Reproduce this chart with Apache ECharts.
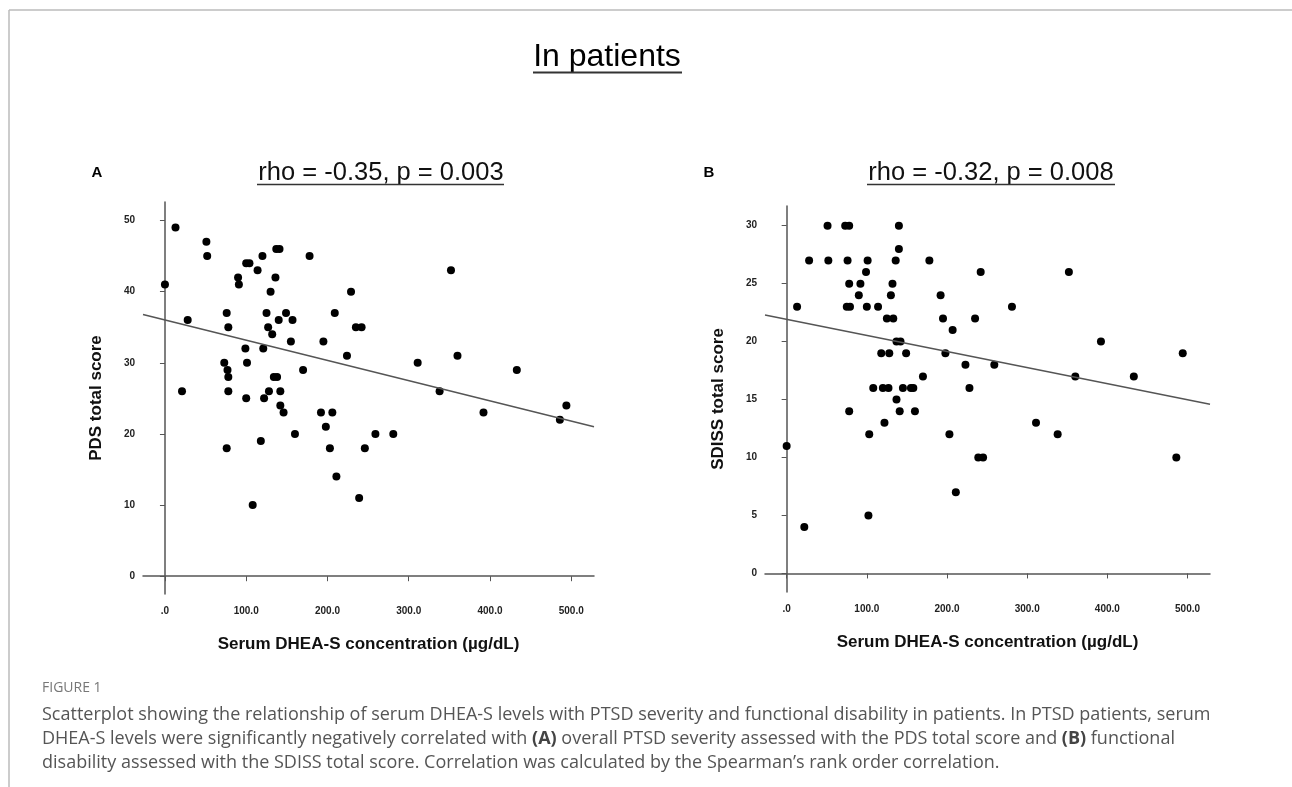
<!DOCTYPE html>
<html>
<head>
<meta charset="utf-8">
<title>In patients</title>
<script src="https://cdn.jsdelivr.net/npm/echarts@6/dist/echarts.min.js"></script>
<style>
  html, body { margin: 0; padding: 0; background: #fff; }
  #chart { width: 1292px; height: 787px; }
</style>
</head>
<body>
<div id="chart"></div>
<script>
// serum DHEA-S (ug/dL) vs PDS total score
const pdsPoints = [
  [13, 49], [51, 47], [52, 45], [0, 41], [137, 46], [141, 46], [120, 45], [178, 45],
  [100, 44], [104, 44], [114, 43], [90, 42], [91, 41], [136, 42], [130, 40], [229, 40],
  [28, 36], [76, 37], [78, 35], [125, 37], [149, 37], [140, 36], [157, 36], [127, 35],
  [132, 34], [209, 37], [235, 35], [242, 35], [155, 33], [195, 33], [99, 32], [121, 32],
  [224, 31], [73, 30], [101, 30], [77, 29], [78, 28], [170, 29], [134, 28], [138, 28],
  [21, 26], [78, 26], [100, 25], [128, 26], [142, 26], [122, 25], [142, 24], [146, 23],
  [192, 23], [206, 23], [198, 21], [160, 20], [259, 20], [118, 19], [76, 18], [203, 18],
  [246, 18], [211, 14], [239, 11], [108, 10], [281, 20], [338, 26], [392, 23], [486, 22],
  [494, 24], [352, 43], [311, 30], [360, 31], [433, 29]
];
// serum DHEA-S vs SDISS total score, panel B
const sdissPoints = [
  [51, 30], [73, 30], [78, 30], [140, 30], [28, 27], [52, 27], [76, 27], [101, 27],
  [136, 27], [178, 27], [140, 28], [99, 26], [78, 25], [92, 25], [132, 25], [90, 24],
  [130, 24], [192, 24], [13, 23], [75, 23], [79, 23], [100, 23], [114, 23], [125, 22],
  [133, 22], [195, 22], [207, 21], [137, 20], [142, 20], [118, 19], [128, 19], [149, 19],
  [198, 19], [223, 18], [170, 17], [108, 16], [120, 16], [127, 16], [145, 16], [155, 16],
  [158, 16], [228, 16], [137, 15], [78, 14], [141, 14], [160, 14], [122, 13], [103, 12],
  [203, 12], [0, 11], [211, 7], [102, 5], [22, 4], [242, 26], [352, 26], [281, 23],
  [235, 22], [392, 20], [494, 19], [259, 18], [360, 17], [433, 17], [311, 13], [338, 12],
  [239, 10], [245, 10], [486, 10]
];
// fitted lines, end points as drawn in the figure
const fitA = [[-27, 36.8], [528, 21.0]];
const fitB = [[-27, 22.3], [528, 14.6]];

const xTicks = [0, 100, 200, 300, 400, 500];
const yTicksA = [0, 10, 20, 30, 40, 50];
const yTicksB = [0, 5, 10, 15, 20, 25, 30];

const rhoA = 'rho = -0.35, p = 0.003';
const rhoB = 'rho = -0.32, p = 0.008';

const captionLines = [
  'Scatterplot showing the relationship of serum DHEA-S levels with PTSD severity and functional disability in patients. In PTSD patients, serum',
  'DHEA-S levels were significantly negatively correlated with {b|(A)} overall PTSD severity assessed with the PDS total score and {b|(B)} functional',
  'disability assessed with the SDISS total score. Correlation was calculated by the Spearman\u2019s rank order correlation.'
];

const axisFont = 'Liberation Sans';
const axisColor = '#555';

function xAxisCfg(gridIndex) {
  return {
    type: 'value', gridIndex,
    min: -27, max: 528,
    name: 'Serum DHEA-S concentration (\u00b5g/dL)',
    nameLocation: 'middle', nameGap: 42,
    nameTextStyle: { fontFamily: axisFont, fontWeight: 'bold', fontSize: 17, color: '#111' },
    axisLine: { lineStyle: { color: axisColor, width: 1.5 } },
    axisTick: { customValues: xTicks, length: 5, lineStyle: { color: axisColor } },
    axisLabel: {
      customValues: xTicks, margin: 12,
      fontFamily: axisFont, fontWeight: 'bold', fontSize: 10, color: '#222',
      formatter: v => (v === 0 ? '.0' : v.toFixed(1))
    },
    splitLine: { show: false }
  };
}

function yAxisCfg(gridIndex, name, min, max, ticks) {
  return {
    type: 'value', gridIndex, min, max, name,
    nameLocation: 'middle', nameGap: 38,
    nameTextStyle: { fontFamily: axisFont, fontWeight: 'bold', fontSize: 17, color: '#111' },
    axisLine: { show: true, lineStyle: { color: axisColor, width: 1.5 } },
    axisTick: { show: true, customValues: ticks, length: 5, lineStyle: { color: axisColor } },
    axisLabel: {
      customValues: ticks, margin: 8,
      fontFamily: axisFont, fontWeight: 'bold', fontSize: 10, color: '#222'
    },
    splitLine: { show: false }
  };
}

function scatterCfg(idx, data) {
  return {
    type: 'scatter', xAxisIndex: idx, yAxisIndex: idx,
    data, symbolSize: 8,
    itemStyle: { color: '#000', opacity: 1 },
    silent: true
  };
}

function fitCfg(idx, data) {
  return {
    type: 'line', xAxisIndex: idx, yAxisIndex: idx,
    data, showSymbol: false, silent: true,
    lineStyle: { color: '#555', width: 1.5 }
  };
}

function textEl(x, y, text, style) {
  return {
    type: 'text', x, y, silent: true,
    style: Object.assign({ text, fill: '#000', fontFamily: axisFont }, style)
  };
}

function underline(x1, x2, y, w) {
  return {
    type: 'line', silent: true,
    shape: { x1, y1: y, x2, y2: y },
    style: { stroke: '#333', lineWidth: w }
  };
}

const captionStyle = {
  fontFamily: 'Open Sans', fontSize: 18, fill: '#555',
  rich: { b: { fontFamily: 'Open Sans', fontSize: 18, fontWeight: 'bold', fill: '#444' } }
};

const chart = echarts.init(document.getElementById('chart'));

const option = {
  backgroundColor: '#fff',
  animation: false,
  grid: [
    { left: 143, top: 202, width: 451, height: 392 },
    { left: 765, top: 206, width: 445, height: 386 }
  ],
  xAxis: [xAxisCfg(0), xAxisCfg(1)],
  yAxis: [
    yAxisCfg(0, 'PDS total score', -2.5, 52.6, yTicksA),
    yAxisCfg(1, 'SDISS total score', -1.6, 31.7, yTicksB)
  ],
  series: [
    fitCfg(0, fitA),
    fitCfg(1, fitB),
    scatterCfg(0, pdsPoints),
    scatterCfg(1, sdissPoints)
  ],
  graphic: [
    // page frame
    { type: 'line', silent: true, shape: { x1: 9, y1: 10, x2: 1292, y2: 10 }, style: { stroke: '#bbb', lineWidth: 1.5 } },
    { type: 'line', silent: true, shape: { x1: 9, y1: 10, x2: 9, y2: 787 }, style: { stroke: '#bbb', lineWidth: 1.5 } },

    textEl(607, 57, 'In patients', { fontSize: 32, align: 'center', verticalAlign: 'middle' }),
    underline(533, 682, 72.5, 2),

    textEl(97, 173, 'A', { fontSize: 15, fontWeight: 'bold', align: 'center', verticalAlign: 'middle' }),
    textEl(381, 173, rhoA, { fontSize: 25.5, align: 'center', verticalAlign: 'middle', fill: '#111' }),
    underline(257, 504, 184.5, 1.5),

    textEl(709, 173, 'B', { fontSize: 15, fontWeight: 'bold', align: 'center', verticalAlign: 'middle' }),
    textEl(991, 173, rhoB, { fontSize: 25.5, align: 'center', verticalAlign: 'middle', fill: '#111' }),
    underline(867, 1115, 184.5, 1.5),

    textEl(42, 688, 'FIGURE 1', { fontFamily: 'Open Sans', fontSize: 14, fill: '#777', verticalAlign: 'middle' }),
    textEl(42, 715, captionLines[0], Object.assign({ verticalAlign: 'middle' }, captionStyle)),
    textEl(42, 739, captionLines[1], Object.assign({ verticalAlign: 'middle' }, captionStyle)),
    textEl(42, 763, captionLines[2], Object.assign({ verticalAlign: 'middle' }, captionStyle))
  ]
};

chart.setOption(option);
</script>
</body>
</html>
